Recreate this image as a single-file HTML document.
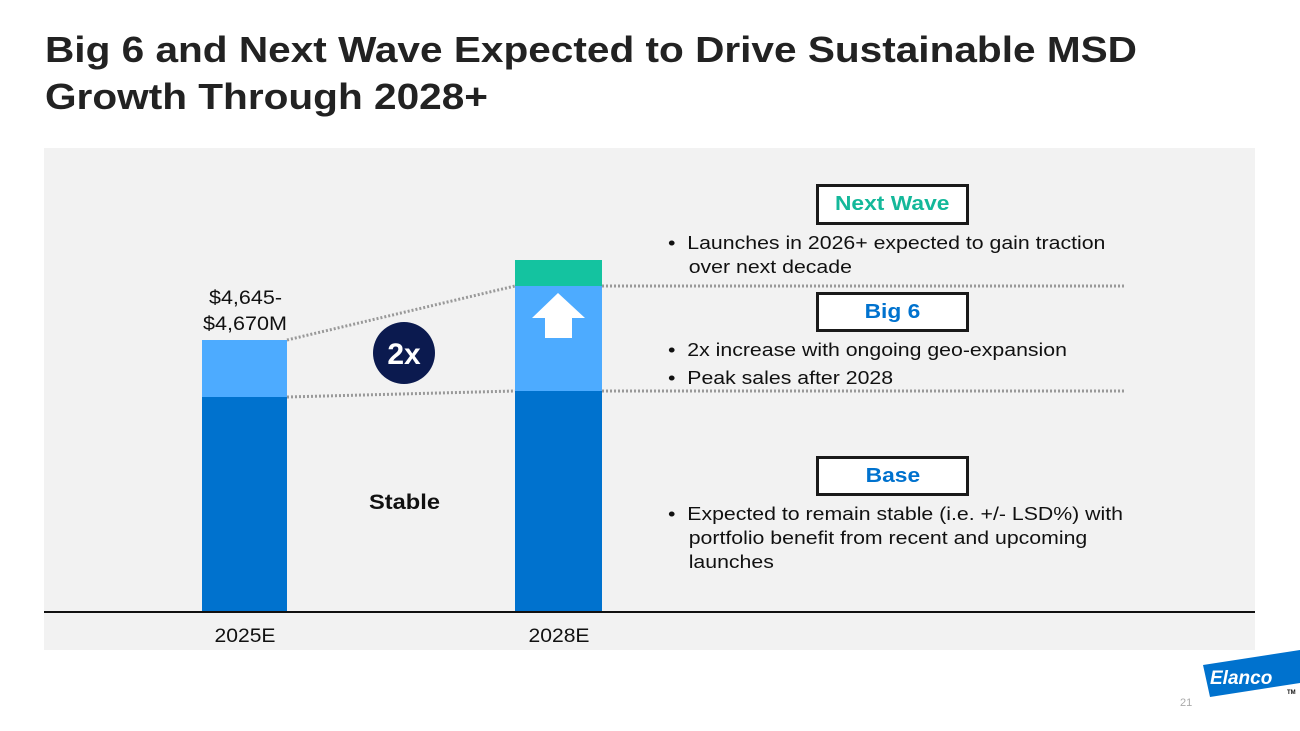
<!DOCTYPE html>
<html><head><meta charset="utf-8"><style>
body{margin:0;width:1300px;height:731px;background:#fff;font-family:"Liberation Sans",Arial,sans-serif;position:relative;overflow:hidden}
.t{position:absolute}
.sx{transform:scaleX(1.15);transform-origin:0 0}
.title{left:45px;top:26px;font-size:36px;font-weight:bold;color:#222;line-height:47px;white-space:nowrap;transform:scaleX(1.127);transform-origin:0 0}
.box{position:absolute;border:3px solid #1a1a1a;background:#fff;font-weight:bold;font-size:20px;box-sizing:border-box;line-height:34px;display:flex;justify-content:center}
.box span{display:inline-block;transform:scaleX(1.14)}
.bul{position:absolute;font-size:18.5px;color:#111;line-height:24px;white-space:nowrap}
.bul div{padding-left:18px;text-indent:-18px}
</style></head><body>
<div class="t title">Big 6 and Next Wave Expected to Drive Sustainable MSD<br>Growth Through 2028+</div>
<svg class="t" style="left:0;top:0" width="1300" height="731">
<rect x="44" y="148" width="1211" height="502" fill="#f2f2f2"/>
<g id="bars"></g>
<line x1="44" y1="612" x2="1255" y2="612" stroke="#111" stroke-width="2"/>
<text x="209" y="304" font-size="19" textLength="73" lengthAdjust="spacingAndGlyphs" fill="#111">$4,645-</text>
<text x="203" y="330" font-size="19" textLength="84" lengthAdjust="spacingAndGlyphs" fill="#111">$4,670M</text>
<circle cx="404" cy="353" r="31" fill="#0b1a4f"/>
<text x="404" y="364" font-size="30" font-weight="bold" text-anchor="middle" fill="#fff">2x</text>
<text x="369" y="509" font-size="21" font-weight="bold" textLength="71" lengthAdjust="spacingAndGlyphs" fill="#111">Stable</text>
<polygon points="558,293 585,318 572,318 572,338 545,338 545,318 532,318" fill="#fff"/>
<text x="1180" y="706" font-size="11" fill="#aaa">21</text>
<polygon points="1203,665 1300,650 1300,683 1210,697" fill="#0072ce"/>
<text x="1210" y="684" font-size="19" font-weight="bold" font-style="italic" fill="#fff">Elanco</text>
<text x="1287" y="694" font-size="6" font-weight="bold" fill="#111">TM</text>
</svg>
<div class="box" style="left:816px;top:184px;width:153px;height:41px;color:#14b89a"><span>Next Wave</span></div>
<div class="box" style="left:816px;top:292px;width:153px;height:40px;color:#0072ce"><span>Big 6</span></div>
<div class="box" style="left:816px;top:456px;width:153px;height:40px;color:#0072ce"><span>Base</span></div>
<div class="bul sx" style="left:668px;top:231px"><div>•&nbsp;&nbsp;Launches in 2026+ expected to gain traction<br>over next decade</div></div>
<div class="bul sx" style="left:668px;top:338px"><div>•&nbsp;&nbsp;2x increase with ongoing geo-expansion</div><div style="margin-top:4px">•&nbsp;&nbsp;Peak sales after 2028</div></div>
<div class="bul sx" style="left:668px;top:502px"><div>•&nbsp;&nbsp;Expected to remain stable (i.e. +/- LSD%) with<br>portfolio benefit from recent and upcoming<br>launches</div></div>
<script>
const categories=["2025E","2028E"];
const baseValues=[215,221];
const big6Values=[57,105];
const nextWaveValues=[0,26];
const NS="http://www.w3.org/2000/svg";
const y=v=>612-v;
const xs=[202,515],bw=[85,87];
const g=document.getElementById('bars');
function rect(x,y0,w,h,fill,name){const r=document.createElementNS(NS,'rect');r.setAttribute('x',x);r.setAttribute('y',y0);r.setAttribute('width',w);r.setAttribute('height',h);r.setAttribute('fill',fill);


g.appendChild(r);}
function line(x1,y1,x2,y2){const l=document.createElementNS(NS,'line');l.setAttribute('x1',x1);l.setAttribute('y1',y1);l.setAttribute('x2',x2);l.setAttribute('y2',y2);l.setAttribute('stroke','#999');l.setAttribute('stroke-width','3');l.setAttribute('stroke-dasharray','2 2');


g.appendChild(l);}
categories.forEach((c,i)=>{
 const b=baseValues[i],s=big6Values[i],n=nextWaveValues[i];
 rect(xs[i],y(b),bw[i],b,'#0072ce','bar-base-'+c);
 rect(xs[i],y(b+s),bw[i],s,'#4dabff','bar-big6-'+c);
 if(n>0)rect(xs[i],y(b+s+n),bw[i],n,'#14c3a0','bar-nextwave-'+c);
 const t=document.createElementNS(NS,'text');t.setAttribute('x',xs[i]+bw[i]/2-30);t.setAttribute('y',642);t.setAttribute('font-size','19');t.setAttribute('textLength','61');t.setAttribute('lengthAdjust','spacingAndGlyphs');t.setAttribute('fill','#111');t.textContent=c;
 
 
 g.appendChild(t);
});
line(xs[0]+bw[0],y(baseValues[0]+big6Values[0]),xs[1],y(baseValues[1]+big6Values[1]));
line(xs[0]+bw[0],y(baseValues[0]),xs[1],y(baseValues[1]));
line(xs[1]+bw[1],y(baseValues[1]+big6Values[1]),1125,y(baseValues[1]+big6Values[1]));
line(xs[1]+bw[1],y(baseValues[1]),1125,y(baseValues[1]));
</script>
</body></html>
